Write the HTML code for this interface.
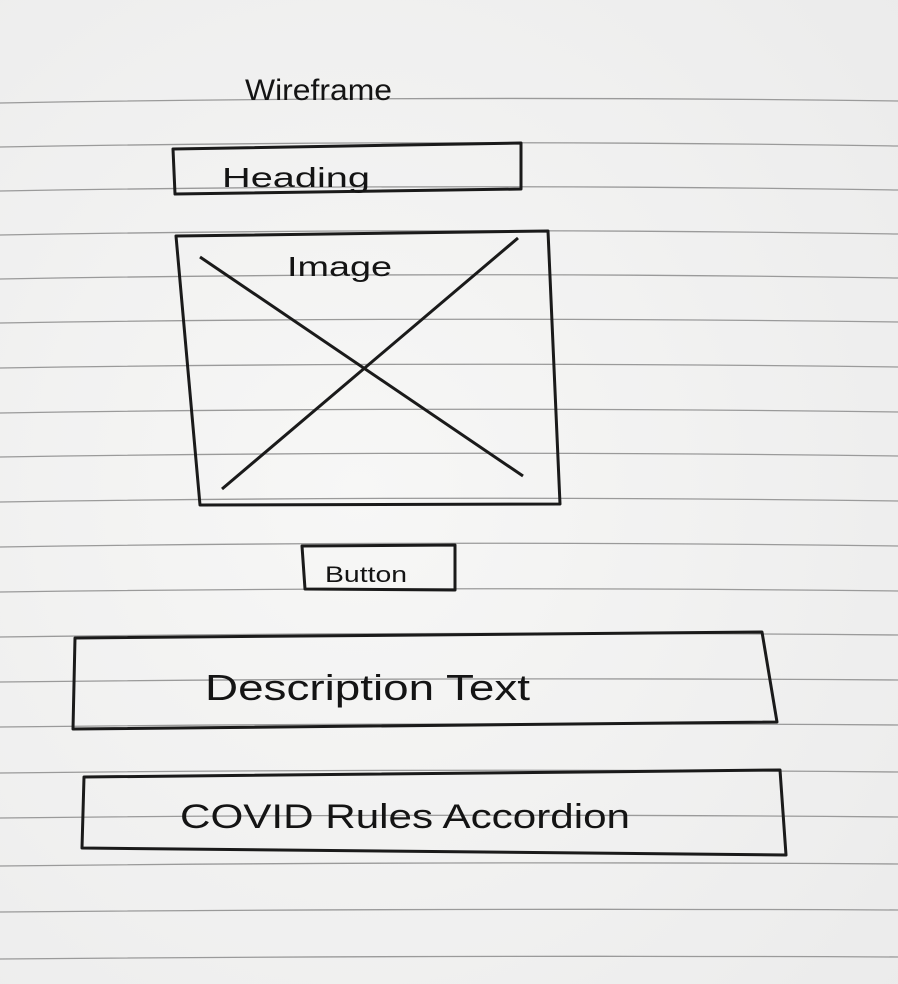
<!DOCTYPE html>
<html><head><meta charset="utf-8"><style>
html,body{margin:0;padding:0;background:#f3f3f3;}
svg{display:block}
text{font-family:"Liberation Sans",sans-serif;fill:#141414}
</style></head><body>
<svg width="898" height="984" viewBox="0 0 898 984" xmlns="http://www.w3.org/2000/svg">
<defs>
<radialGradient id="g" cx="0.4" cy="0.5" r="0.8">
<stop offset="0" stop-color="#f7f7f6"/><stop offset="1" stop-color="#ebebeb"/>
</radialGradient>
</defs>
<rect width="898" height="984" fill="url(#g)"/>
<g stroke="#9a9a9a" stroke-width="1.3" fill="none">
<path d="M0 103 Q450 95 898 101"/>
<path d="M0 147 Q450 139 898 146"/>
<path d="M0 191 Q450 183 898 190"/>
<path d="M0 235 Q450 227 898 234"/>
<path d="M0 279 Q450 271 898 278"/>
<path d="M0 323 Q450 316 898 322"/>
<path d="M0 368 Q450 361 898 367"/>
<path d="M0 413 Q450 406 898 412"/>
<path d="M0 457 Q450 450 898 456"/>
<path d="M0 502 Q450 495 898 501"/>
<path d="M0 547 Q450 540 898 546"/>
<path d="M0 592 Q450 586 898 591"/>
<path d="M0 637 Q450 631 898 635"/>
<path d="M0 682 Q450 677 898 680"/>
<path d="M0 727 Q450 722 898 725"/>
<path d="M0 773 Q450 768 898 772"/>
<path d="M0 818 Q450 813 898 817"/>
<path d="M0 866 Q450 861 898 864"/>
<path d="M0 912 Q450 908 898 910"/>
<path d="M0 959 Q450 955 898 957"/>
</g>
<g stroke="#1a1a1a" stroke-width="3" fill="none" stroke-linejoin="round">
<path d="M173 149 L521 143 L521 189 L175 194 Z"/>
<path d="M176 236 L548 231 L560 504 L200 505 Z"/>
<path d="M200 257 L523 476"/>
<path d="M518 238 L222 489"/>
<path d="M302 546 L455 545 L455 590 L305 589 Z"/>
<path d="M75 638 L762 632 L777 722 L73 729 Z"/>
<path d="M84 777 L780 770 L786 855 L82 848 Z"/>
</g>
<text x="245" y="100" font-size="30" textLength="147" lengthAdjust="spacingAndGlyphs">Wireframe</text>
<text x="222" y="187" font-size="28" textLength="148" lengthAdjust="spacingAndGlyphs">Heading</text>
<text x="287" y="276" font-size="28" textLength="105" lengthAdjust="spacingAndGlyphs">Image</text>
<text x="325" y="582" font-size="22" textLength="82" lengthAdjust="spacingAndGlyphs">Button</text>
<text x="205" y="700" font-size="36" textLength="325" lengthAdjust="spacingAndGlyphs">Description Text</text>
<text x="180" y="828" font-size="34" textLength="450" lengthAdjust="spacingAndGlyphs">COVID Rules  Accordion</text>
</svg>
</body></html>
